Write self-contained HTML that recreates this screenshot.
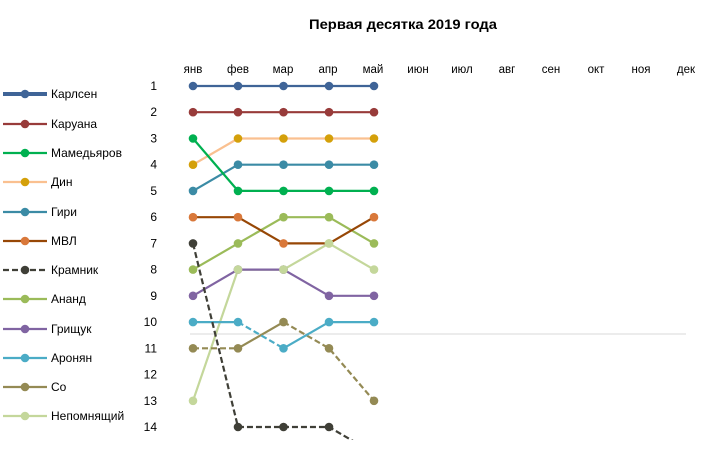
<!DOCTYPE html>
<html><head><meta charset="utf-8"><style>
html,body{margin:0;padding:0;background:#fff;}
svg{display:block;font-family:"Liberation Sans","DejaVu Sans",sans-serif;}
</style></head><body>
<svg width="703" height="454" viewBox="0 0 703 454" xmlns="http://www.w3.org/2000/svg">
<defs><clipPath id="pa"><rect x="0" y="60" width="703" height="380"/></clipPath></defs>
<rect width="703" height="454" fill="#fff"/>
<text x="403" y="29" text-anchor="middle" font-size="14" font-weight="bold" fill="#000" textLength="188" lengthAdjust="spacingAndGlyphs">Первая десятка 2019 года</text>
<g font-size="11.5" fill="#000" text-anchor="middle">
<text x="193" y="73">янв</text><text x="238" y="73">фев</text><text x="283" y="73">мар</text><text x="328" y="73">апр</text><text x="373" y="73">май</text><text x="418" y="73">июн</text><text x="462" y="73">июл</text><text x="507" y="73">авг</text><text x="551" y="73">сен</text><text x="596" y="73">окт</text><text x="641" y="73">ноя</text><text x="686" y="73">дек</text>
</g>
<g font-size="12" fill="#000" text-anchor="end">
<text x="157" y="90">1</text><text x="157" y="116">2</text><text x="157" y="142.5">3</text><text x="157" y="168.5">4</text><text x="157" y="195">5</text><text x="157" y="221">6</text><text x="157" y="247.5">7</text><text x="157" y="273.5">8</text><text x="157" y="300">9</text><text x="157" y="326">10</text><text x="157" y="352.5">11</text><text x="157" y="378.5">12</text><text x="157" y="405">13</text><text x="157" y="431">14</text>
</g>
<line x1="190" y1="334" x2="686" y2="334" stroke="#D9D9D9" stroke-width="1"/>
<g clip-path="url(#pa)" stroke-width="2.2" fill="none" stroke-linejoin="round">
<!-- Непомнящий -->
<polyline points="193,400.8 238,269.6 283.5,269.6 329,243.4 374,269.6" stroke="#C4D79B"/>
<!-- Со -->
<line x1="193" y1="348.3" x2="238" y2="348.3" stroke="#948A54" stroke-dasharray="6,3"/>
<line x1="238" y1="348.3" x2="283.5" y2="322.1" stroke="#948A54"/>
<polyline points="283.5,322.1 329,348.3 374,400.8" stroke="#948A54" stroke-dasharray="6,3"/>
<!-- Аронян -->
<line x1="193" y1="322.1" x2="238" y2="322.1" stroke="#4BACC6"/>
<line x1="238" y1="322.1" x2="283.5" y2="348.3" stroke="#4BACC6" stroke-dasharray="6,3"/>
<polyline points="283.5,348.3 329,322.1 374,322.1" stroke="#4BACC6"/>
<!-- Грищук -->
<polyline points="193,295.8 238,269.6 283.5,269.6 329,295.8 374,295.8" stroke="#8064A2"/>
<!-- Ананд -->
<polyline points="193,269.6 238,243.4 283.5,217.2 329,217.2 374,243.4" stroke="#9BBB59"/>
<!-- Крамник -->
<polyline points="193,243.4 238,427 283.5,427 329,427 374,453.2" stroke="#3F3F37" stroke-dasharray="6,3"/>
<!-- МВЛ -->
<polyline points="193,217.2 238,217.2 283.5,243.4 329,243.4 374,217.2" stroke="#974706"/>
<!-- Гири -->
<polyline points="193,190.9 238,164.7 283.5,164.7 329,164.7 374,164.7" stroke="#3B8BA5"/>
<!-- Дин -->
<polyline points="193,164.7 238,138.5 283.5,138.5 329,138.5 374,138.5" stroke="#FAC090"/>
<!-- Мамедьяров -->
<polyline points="193,138.5 238,190.9 283.5,190.9 329,190.9 374,190.9" stroke="#00B050"/>
<!-- Каруана -->
<polyline points="193,112.2 238,112.2 283.5,112.2 329,112.2 374,112.2" stroke="#983B3A"/>
<!-- Карлсен -->
<polyline points="193,86 238,86 283.5,86 329,86 374,86" stroke="#3F6497"/>
</g>
<g>
<g fill="#C4D79B"><circle cx="193" cy="400.8" r="4.3"/><circle cx="238" cy="269.6" r="4.3"/><circle cx="283.5" cy="269.6" r="4.3"/><circle cx="329" cy="243.4" r="4.3"/><circle cx="374" cy="269.6" r="4.3"/></g>
<g fill="#948A54"><circle cx="193" cy="348.3" r="4.3"/><circle cx="238" cy="348.3" r="4.3"/><circle cx="283.5" cy="322.1" r="4.3"/><circle cx="329" cy="348.3" r="4.3"/><circle cx="374" cy="400.8" r="4.3"/></g>
<g fill="#4BACC6"><circle cx="193" cy="322.1" r="4.3"/><circle cx="238" cy="322.1" r="4.3"/><circle cx="283.5" cy="348.3" r="4.3"/><circle cx="329" cy="322.1" r="4.3"/><circle cx="374" cy="322.1" r="4.3"/></g>
<g fill="#8064A2"><circle cx="193" cy="295.8" r="4.3"/><circle cx="238" cy="269.6" r="4.3"/><circle cx="283.5" cy="269.6" r="4.3"/><circle cx="329" cy="295.8" r="4.3"/><circle cx="374" cy="295.8" r="4.3"/></g>
<g fill="#9BBB59"><circle cx="193" cy="269.6" r="4.3"/><circle cx="238" cy="243.4" r="4.3"/><circle cx="283.5" cy="217.2" r="4.3"/><circle cx="329" cy="217.2" r="4.3"/><circle cx="374" cy="243.4" r="4.3"/></g>
<g fill="#C4D79B"><circle cx="238" cy="269.6" r="4.3"/><circle cx="283.5" cy="269.6" r="4.3"/><circle cx="329" cy="243.4" r="4.3"/></g>
<g fill="#3F3F37"><circle cx="193" cy="243.4" r="4.3"/><circle cx="238" cy="427" r="4.3"/><circle cx="283.5" cy="427" r="4.3"/><circle cx="329" cy="427" r="4.3"/></g>
<g fill="#D9783A"><circle cx="193" cy="217.2" r="4.3"/><circle cx="238" cy="217.2" r="4.3"/><circle cx="283.5" cy="243.4" r="4.3"/><circle cx="374" cy="217.2" r="4.3"/></g>
<g fill="#3B8BA5"><circle cx="193" cy="190.9" r="4.3"/><circle cx="238" cy="164.7" r="4.3"/><circle cx="283.5" cy="164.7" r="4.3"/><circle cx="329" cy="164.7" r="4.3"/><circle cx="374" cy="164.7" r="4.3"/></g>
<g fill="#D4A00A"><circle cx="193" cy="164.7" r="4.3"/><circle cx="238" cy="138.5" r="4.3"/><circle cx="283.5" cy="138.5" r="4.3"/><circle cx="329" cy="138.5" r="4.3"/><circle cx="374" cy="138.5" r="4.3"/></g>
<g fill="#00B050"><circle cx="193" cy="138.5" r="4.3"/><circle cx="238" cy="190.9" r="4.3"/><circle cx="283.5" cy="190.9" r="4.3"/><circle cx="329" cy="190.9" r="4.3"/><circle cx="374" cy="190.9" r="4.3"/></g>
<g fill="#983B3A"><circle cx="193" cy="112.2" r="4.3"/><circle cx="238" cy="112.2" r="4.3"/><circle cx="283.5" cy="112.2" r="4.3"/><circle cx="329" cy="112.2" r="4.3"/><circle cx="374" cy="112.2" r="4.3"/></g>
<g fill="#3F6497"><circle cx="193" cy="86" r="4.3"/><circle cx="238" cy="86" r="4.3"/><circle cx="283.5" cy="86" r="4.3"/><circle cx="329" cy="86" r="4.3"/><circle cx="374" cy="86" r="4.3"/></g>
</g>
<!-- Legend -->
<g stroke-width="2.2">
<line x1="3" y1="94" x2="47" y2="94" stroke="#3F6497" stroke-width="4"/><circle cx="25" cy="94" r="4.3" fill="#3F6497"/>
<line x1="3" y1="124" x2="47" y2="124" stroke="#983B3A"/><circle cx="25" cy="124" r="4.3" fill="#983B3A"/>
<line x1="3" y1="153" x2="47" y2="153" stroke="#00B050"/><circle cx="25" cy="153" r="4.3" fill="#00B050"/>
<line x1="3" y1="182" x2="47" y2="182" stroke="#FAC090"/><circle cx="25" cy="182" r="4.3" fill="#D4A00A"/>
<line x1="3" y1="212" x2="47" y2="212" stroke="#3B8BA5"/><circle cx="25" cy="212" r="4.3" fill="#3B8BA5"/>
<line x1="3" y1="241" x2="47" y2="241" stroke="#974706"/><circle cx="25" cy="241" r="4.3" fill="#D9783A"/>
<line x1="3" y1="270" x2="47" y2="270" stroke="#3F3F37" stroke-dasharray="6,3"/><circle cx="25" cy="270" r="4.3" fill="#3F3F37"/>
<line x1="3" y1="299" x2="47" y2="299" stroke="#9BBB59"/><circle cx="25" cy="299" r="4.3" fill="#9BBB59"/>
<line x1="3" y1="329" x2="47" y2="329" stroke="#8064A2"/><circle cx="25" cy="329" r="4.3" fill="#8064A2"/>
<line x1="3" y1="358" x2="47" y2="358" stroke="#4BACC6"/><circle cx="25" cy="358" r="4.3" fill="#4BACC6"/>
<line x1="3" y1="387" x2="47" y2="387" stroke="#948A54"/><circle cx="25" cy="387" r="4.3" fill="#948A54"/>
<line x1="3" y1="416" x2="47" y2="416" stroke="#C4D79B"/><circle cx="25" cy="416" r="4.3" fill="#C4D79B"/>
</g>
<g font-size="12" fill="#000">
<text x="51" y="98">Карлсен</text>
<text x="51" y="128">Каруана</text>
<text x="51" y="157">Мамедьяров</text>
<text x="51" y="186">Дин</text>
<text x="51" y="216">Гири</text>
<text x="51" y="245">МВЛ</text>
<text x="51" y="274">Крамник</text>
<text x="51" y="303">Ананд</text>
<text x="51" y="333">Грищук</text>
<text x="51" y="362">Аронян</text>
<text x="51" y="391">Со</text>
<text x="51" y="420">Непомнящий</text>
</g>
</svg>
</body></html>
